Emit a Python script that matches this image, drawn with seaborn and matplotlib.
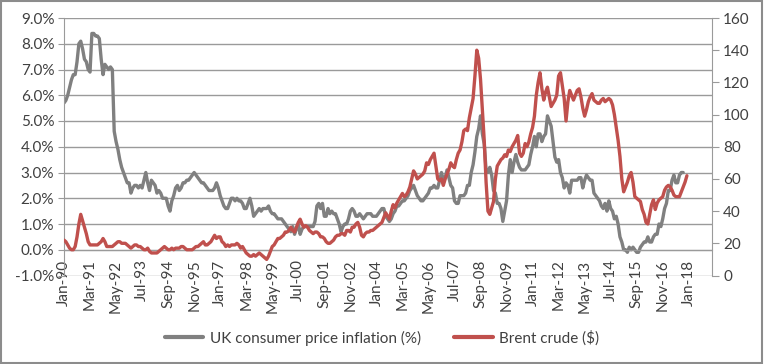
import numpy as np
import pandas as pd
import seaborn as sns
import matplotlib.pyplot as plt
from matplotlib.lines import Line2D
from matplotlib.patches import Rectangle

# UK consumer price inflation, % (monthly, Jan-90 .. Oct-17)
cpi = [
    5.7, 5.8, 6.0, 6.3, 6.6, 6.8, 6.8, 7.3, 8.0, 8.1, 7.8, 7.4,  # 1990
    7.3, 7.0, 6.9, 8.4, 8.4, 8.3, 8.3, 8.2, 7.4, 6.8, 7.2, 7.1,  # 1991
    7.0, 7.1, 7.0, 4.6, 4.2, 3.9, 3.5, 3.2, 3.0, 2.8, 2.6, 2.6,  # 1992
    2.2, 2.4, 2.5, 2.5, 2.4, 2.5, 2.4, 2.7, 3.0, 2.6, 2.3, 2.7,  # 1993
    2.6, 2.5, 2.2, 2.3, 2.2, 2.0, 2.0, 2.0, 1.7, 1.5, 1.9, 2.1,  # 1994
    2.4, 2.5, 2.3, 2.4, 2.6, 2.6, 2.7, 2.7, 2.8, 2.9, 3.0, 2.9,  # 1995
    2.8, 2.7, 2.6, 2.6, 2.5, 2.4, 2.3, 2.3, 2.3, 2.4, 2.6, 2.4,  # 1996
    2.1, 1.9, 1.7, 1.6, 1.6, 1.8, 2.0, 2.0, 1.9, 2.0, 1.9, 1.9,  # 1997
    1.8, 1.6, 1.6, 1.8, 2.0, 1.7, 1.3, 1.4, 1.5, 1.6, 1.5, 1.6,  # 1998
    1.6, 1.6, 1.7, 1.5, 1.4, 1.4, 1.3, 1.2, 1.2, 1.2, 1.1, 1.0,  # 1999
    0.9, 0.8, 0.7, 0.9, 0.6, 0.8, 1.0, 0.6, 0.8, 0.9, 0.9, 0.9,  # 2000
    0.9, 0.9, 0.9, 1.1, 1.7, 1.8, 1.6, 1.8, 1.3, 1.3, 1.6, 1.4,  # 2001
    1.5, 1.4, 1.4, 1.2, 1.0, 0.7, 0.9, 1.0, 1.0, 1.2, 1.5, 1.6,  # 2002
    1.5, 1.3, 1.3, 1.4, 1.3, 1.2, 1.3, 1.4, 1.4, 1.4, 1.3, 1.3,  # 2003
    1.3, 1.4, 1.5, 1.6, 1.6, 1.3, 1.2, 1.1, 1.2, 1.4, 1.5, 1.7,  # 2004
    1.7, 1.8, 1.9, 1.9, 2.0, 2.1, 2.3, 2.4, 2.5, 2.3, 2.1, 2.0,  # 2005
    1.9, 1.9, 2.0, 2.1, 2.2, 2.4, 2.4, 2.5, 2.4, 2.4, 2.7, 3.0,  # 2006
    2.7, 2.8, 3.1, 2.8, 2.5, 2.4, 1.9, 1.8, 1.8, 2.1, 2.1, 2.1,  # 2007
    2.2, 2.5, 2.5, 3.0, 3.3, 3.8, 4.4, 4.7, 5.2, 4.5, 4.1, 3.1,  # 2008
    3.0, 3.2, 2.9, 2.3, 2.2, 1.8, 1.8, 1.6, 1.1, 1.5, 1.9, 2.9,  # 2009
    3.5, 3.0, 3.4, 3.7, 3.4, 3.2, 3.1, 3.1, 3.1, 3.2, 3.3, 3.7,  # 2010
    4.0, 4.4, 4.0, 4.5, 4.5, 4.2, 4.4, 4.5, 5.2, 5.0, 4.8, 4.2,  # 2011
    3.6, 3.4, 3.5, 3.0, 2.8, 2.4, 2.6, 2.5, 2.2, 2.7, 2.7, 2.7,  # 2012
    2.7, 2.8, 2.8, 2.4, 2.7, 2.9, 2.8, 2.7, 2.7, 2.2, 2.1, 2.0,  # 2013
    1.9, 1.7, 1.6, 1.8, 1.5, 1.9, 1.6, 1.5, 1.2, 1.3, 1.0, 0.5,  # 2014
    0.3, 0.0, 0.0, -0.1, 0.1, 0.0, 0.1, 0.0, -0.1, -0.1, 0.1, 0.2,  # 2015
    0.3, 0.3, 0.5, 0.3, 0.3, 0.5, 0.6, 0.6, 1.0, 0.9, 1.2, 1.6,  # 2016
    1.8, 2.3, 2.3, 2.7, 2.9, 2.6, 2.6, 2.9, 3.0, 3.0,  # 2017
]

# Brent crude, $ per barrel (monthly, Jan-90 .. Dec-17)
brent = [
    22, 21, 19, 17, 16, 16, 18, 24, 32, 38, 34, 30,  # 1990
    26, 21, 19, 19, 19, 19, 19, 20, 21, 23, 21, 18,  # 1991
    18, 18, 18, 19, 20, 21, 21, 20, 20, 20, 19, 18,  # 1992
    17, 18, 19, 19, 18, 18, 17, 16, 16, 17, 15, 14,  # 1993
    14, 14, 14, 15, 16, 17, 18, 17, 16, 16, 17, 16,  # 1994
    17, 17, 17, 18, 18, 17, 16, 16, 16, 16, 17, 18,  # 1995
    18, 19, 20, 21, 19, 19, 20, 21, 23, 25, 23, 24,  # 1996
    24, 21, 20, 18, 19, 18, 19, 19, 19, 20, 19, 17,  # 1997
    18, 16, 14, 13, 12, 12, 13, 12, 13, 14, 13, 12,  # 1998
    11, 10, 12, 15, 18, 19, 21, 23, 23, 24, 25, 27,  # 1999
    27, 28, 30, 28, 27, 30, 33, 35, 32, 30, 31, 30,  # 2000
    28, 27, 26, 27, 27, 26, 24, 24, 23, 21, 20, 20,  # 2001
    21, 22, 24, 25, 25, 26, 26, 25, 28, 28, 27, 30,  # 2002
    30, 32, 33, 30, 25, 24, 26, 27, 27, 28, 28, 29,  # 2003
    30, 31, 32, 33, 36, 39, 37, 35, 40, 44, 42, 45,  # 2004
    47, 49, 51, 49, 50, 52, 55, 60, 65, 63, 60, 61,  # 2005
    62, 63, 65, 70, 69, 72, 74, 76, 68, 60, 59, 60,  # 2006
    56, 60, 63, 66, 70, 68, 67, 72, 76, 78, 83, 90,  # 2007
    91, 90, 98, 104, 110, 124, 140, 135, 122, 103, 84, 58,  # 2008
    40, 38, 42, 46, 60, 68, 70, 72, 73, 75, 74, 78,  # 2009
    77, 80, 82, 84, 87, 76, 74, 76, 82, 80, 83, 88,  # 2010
    92, 99, 112, 120, 126, 116, 109, 114, 117, 111, 105, 107,  # 2011
    109, 112, 124, 126, 118, 110, 96, 108, 115, 112, 109, 112,  # 2012
    115, 116, 111, 104, 99, 103, 108, 111, 113, 109, 108, 107,  # 2013
    107, 109, 110, 108, 109, 110, 109, 106, 100, 92, 84, 74,  # 2014
    60, 52, 55, 58, 62, 64, 58, 49, 48, 47, 46, 41,  # 2015
    38, 33, 32, 38, 44, 47, 41, 45, 47, 48, 49, 53,  # 2016
    55, 56, 55, 53, 50, 49, 49, 49, 52, 55, 58, 62,  # 2017
]

tick_labels = ["Jan-90", "Mar-91", "May-92", "Jul-93", "Sep-94", "Nov-95",
               "Jan-97", "Mar-98", "May-99", "Jul-00", "Sep-01", "Nov-02",
               "Jan-04", "Mar-05", "May-06", "Jul-07", "Sep-08", "Nov-09",
               "Jan-11", "Mar-12", "May-13", "Jul-14", "Sep-15", "Nov-16",
               "Jan-18"]

GREY = "#808080"
RED = "#C0504D"
GRID = "#9a9a9a"
TEXT = "#404040"

sns.set_style("white")
plt.rcParams["font.family"] = ["Lato", "DejaVu Sans"]

cpi_df = pd.DataFrame({"month": np.arange(len(cpi)), "value": cpi})
brent_df = pd.DataFrame({"month": np.arange(len(brent)), "value": brent})

fig = plt.figure(figsize=(7.64, 3.64), dpi=100)
ax = fig.add_axes([64 / 764, 1 - 275.5 / 364, 648 / 764, 257.5 / 364])

sns.lineplot(data=cpi_df, x="month", y="value", ax=ax, color=GREY, lw=2.4)
ax2 = ax.twinx()
sns.lineplot(data=brent_df, x="month", y="value", ax=ax2, color=RED, lw=2.4)

ax.set_xlim(0, 348.5)
ax.set_ylim(-1, 9)
ax2.set_ylim(0, 160)

ax.set_yticks(np.arange(-1, 10, 1))
ax.set_yticklabels([f"{v:.1f}%" for v in np.arange(-1, 10, 1)])
ax.yaxis.grid(True, color=GRID, lw=1)
ax.xaxis.grid(False)
ax.set_xticks(np.arange(len(tick_labels)) * 14)
ax.set_xticklabels(tick_labels)
ax2.set_yticks(np.arange(0, 161, 20))

ax.spines["bottom"].set_position(("data", 0))
for s in ["top", "right"]:
    ax.spines[s].set_visible(False)
for s in ["top", "left", "bottom"]:
    ax2.spines[s].set_visible(False)
for s in ["bottom", "left"]:
    ax.spines[s].set_color(GRID)
ax2.spines["right"].set_color(GRID)

ax.tick_params(axis="y", length=4, color=GRID, labelsize=11, labelcolor=TEXT, pad=3)
ax.tick_params(axis="x", length=5, color=GRID, direction="out", labelsize=11,
               labelcolor=TEXT, pad=2, labelrotation=90)
ax2.tick_params(axis="y", length=5, color=GRID, labelsize=11, labelcolor=TEXT, pad=3)
for lab in ax.get_xticklabels():
    lab.set_bbox(dict(facecolor="white", edgecolor="none", pad=0.6))

for a in (ax, ax2):
    a.set_xlabel("")
    a.set_ylabel("")

handles = [Line2D([], [], color=GREY, lw=3), Line2D([], [], color=RED, lw=3)]
fig.legend(handles, ["UK consumer price inflation (%)", "Brent crude ($)"],
           loc="center", bbox_to_anchor=(0.5, 1 - 338 / 364), ncol=2,
           frameon=False, fontsize=11, handlelength=2.5, handletextpad=0.4,
           columnspacing=2.2, labelcolor=TEXT)

fig.add_artist(Rectangle((0.001, 0.002), 0.997, 0.995, transform=fig.transFigure,
                         fill=False, edgecolor="#8c8c8c", lw=1.5))

fig.savefig("out.png", dpi=100)
